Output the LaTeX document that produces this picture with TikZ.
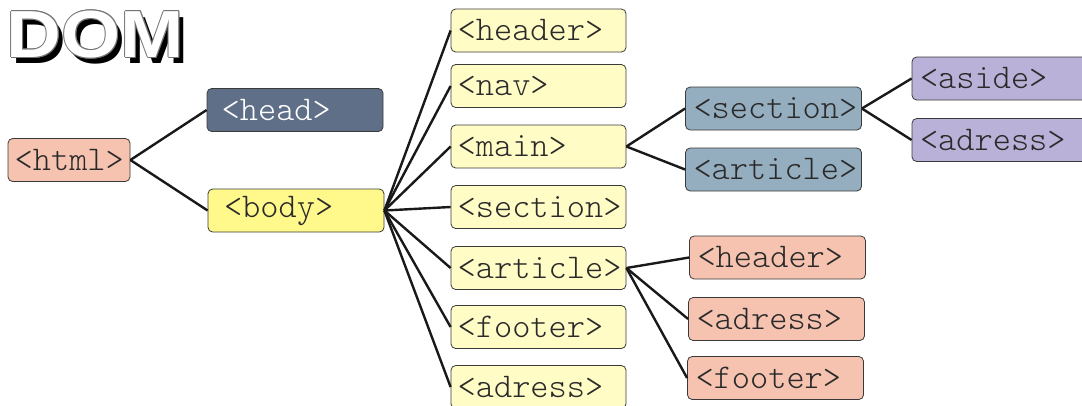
\documentclass[tikz,border=0pt]{standalone}
\usepackage{fontspec}
\setmonofont{Latin Modern Mono Light}
\newfontfamily\domfont{Liberation Sans}
\definecolor{salmon}{HTML}{F5C3B0}
\definecolor{headcol}{HTML}{5F6F88}
\definecolor{bodycol}{HTML}{FFF98C}
\definecolor{paleyel}{HTML}{FFFCC6}
\definecolor{bluecol}{HTML}{95AEBF}
\definecolor{purpcol}{HTML}{B9B1D7}
\definecolor{bordcol}{HTML}{3A3A3A}
\definecolor{txtcol}{HTML}{2A2A2A}
\tikzset{
  bx/.style={draw=bordcol, line width=0.6pt, rounded corners=3.5pt,
    font=\ttfamily\fontsize{26}{26}\selectfont, text=txtcol, align=left,
    inner xsep=6pt, text width=120pt, minimum height=32.25pt, inner ysep=0pt},
  wbx/.style={bx, inner xsep=11pt, text width=110pt},
  ybx/.style={bx, fill=paleyel, inner xsep=5pt, text width=121.25pt},
  link/.style={line width=1.8pt, black!90},
  domtxt/.style={font=\domfont\bfseries\fontsize{50}{50}\selectfont, inner sep=0pt, anchor=base west, xscale=1.14}
}
\begin{document}
\begin{tikzpicture}[x=0.75pt, y=-0.75pt]
\useasboundingbox (0,0) rectangle (1082,405);
\clip (0,0) rectangle (1082,405);
% title
\node[domtxt, text=black] (domshadow) at (11.5,63.5) {DOM};
\foreach \dx/\dy in {0.9/0,-0.9/0,0/0.9,0/-0.9,0.65/0.65,-0.65/0.65,0.65/-0.65,-0.65/-0.65}
  \node[domtxt, text=black!55] at (6.5+\dx,57.5+\dy) {DOM};
\node[domtxt, text=white] (dom) at (6.5,57.5) {DOM};
% level 0/1
\node[bx, fill=salmon, text width=81.5pt, inner xsep=5pt] (html) at (69,160) {<html>};
\node[wbx, fill=headcol, text=white] (head) at (295,110) {<head>};
\node[wbx, fill=bodycol, inner xsep=12pt, text width=108pt] (body) at (296,210.5) {<body>};
% level 2
\node[ybx] (y1) at (538.5,30.5) {<header>};
\node[ybx] (y2) at (538.5,86) {<nav>};
\node[ybx] (y3) at (538.5,146.5) {<main>};
\node[ybx] (y4) at (538.5,207) {<section>};
\node[ybx] (y5) at (538.5,268) {<article>};
\node[ybx] (y6) at (538.5,327) {<footer>};
\node[ybx] (y7) at (538.5,387) {<adress>};
% level 3
\node[bx, fill=bluecol] (bsec) at (773.5,108.5) {<section>};
\node[bx, fill=bluecol] (bart) at (773.5,169.5) {<article>};
\node[bx, fill=salmon] (rhead) at (777.5,257.5) {<header>};
\node[bx, fill=salmon] (radr) at (776.5,319) {<adress>};
\node[bx, fill=salmon] (rfoot) at (775.5,378) {<footer>};
% level 4
\node[bx, fill=purpcol] (paside) at (1000,78.5) {<aside>};
\node[bx, fill=purpcol] (padr) at (1000,140) {<adress>};
% links
\draw[link] (html.east) -- (head.west);
\draw[link] (html.east) -- (body.west);
\foreach \t in {y1,y2,y3,y4,y5,y6,y7}
  \draw[link] (body.east) -- (\t.west);
\draw[link] (y3.east) -- (bsec.west);
\draw[link] (y3.east) -- (bart.west);
\draw[link] (bsec.east) -- (paside.west);
\draw[link] (bsec.east) -- (padr.west);
\draw[link] (y5.east) -- (rhead.west);
\draw[link] (y5.east) -- (radr.west);
\draw[link] (y5.east) -- (rfoot.west);
\end{tikzpicture}
\end{document}
